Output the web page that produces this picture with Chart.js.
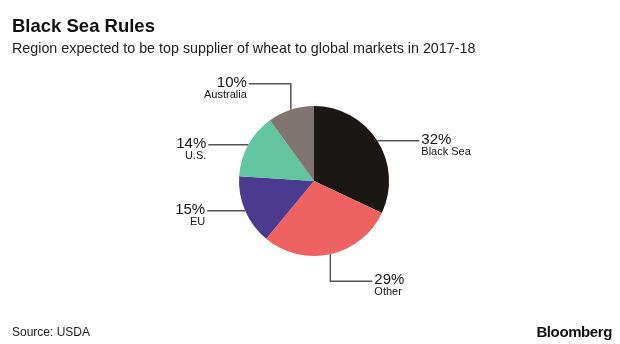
<!DOCTYPE html>
<html>
<head>
<meta charset="utf-8">
<script src="https://cdn.jsdelivr.net/npm/chart.js@4.4.1/dist/chart.umd.min.js"></script>
<style>
    body { margin: 0; background: #fff; font-family: "Liberation Sans", Arial, sans-serif; }
    #wrap { position: relative; width: 620px; height: 344px; overflow: hidden; }
    #wrap canvas { position: absolute; left: 0; top: 0; }
    .txt { position: absolute; color: #111; white-space: nowrap; line-height: 1; }
    #title { left: 12px; top: 17px; font-size: 18.5px; font-weight: bold; }
    #subtitle { left: 12px; top: 41px; font-size: 14.3px; color: #222; }
    #source { left: 12px; top: 326px; font-size: 12px; color: #222; }
    #brand { right: 8px; top: 324px; font-size: 15px; font-weight: bold; letter-spacing: -0.4px; }
</style>
</head>
<body>
<div id="wrap">
    <canvas id="pieChart" width="620" height="344"></canvas>
    <div class="txt" id="title">Black Sea Rules</div>
    <div class="txt" id="subtitle">Region expected to be top supplier of wheat to global markets in 2017-18</div>
    <div class="txt" id="source">Source: USDA</div>
    <div class="txt" id="brand">Bloomberg</div>
</div>
<script>
// data
const regions = ['Black Sea', 'Other', 'EU', 'U.S.', 'Australia'];
const shares = [32, 29, 15, 14, 10];
const sliceColors = ['#1b1715', '#ee6262', '#4a3b8f', '#62c4a0', '#807571'];

// leader line layout per slice (dx/dy moves from the slice edge)
const leaders = [
    { path: [[42, 0]], align: 'left' },           // Black Sea
    { path: [[0, 27], [42, 0]], align: 'left' },  // Other
    { path: [[-38, 0]], align: 'right' },         // EU
    { path: [[-40, 0]], align: 'right' },         // U.S.
    { path: [[0, -26], [-42, 0]], align: 'right' } // Australia
];

const labelPlugin = {
    id: 'leaderLabels',
    afterDatasetsDraw(chart) {
        const ctx = chart.ctx;
        const arcs = chart.getDatasetMeta(0).data;
        arcs.forEach((arc, i) => {
            const mid = (arc.startAngle + arc.endAngle) / 2;
            let x = arc.x + Math.cos(mid) * arc.outerRadius;
            let y = arc.y + Math.sin(mid) * arc.outerRadius;
            ctx.save();
            ctx.strokeStyle = '#555';
            ctx.lineWidth = 1.5;
            ctx.beginPath();
            ctx.moveTo(x, y);
            leaders[i].path.forEach(([dx, dy]) => {
                x += dx; y += dy;
                ctx.lineTo(x, y);
            });
            ctx.stroke();

            const left = leaders[i].align === 'left';
            const tx = left ? x + 2 : x - 2;
            ctx.textAlign = left ? 'left' : 'right';
            ctx.textBaseline = 'middle';
            ctx.fillStyle = '#161616';
            ctx.font = '15px "Liberation Sans", Arial, sans-serif';
            ctx.fillText(shares[i] + '%', tx, y - 1);
            ctx.font = '11px "Liberation Sans", Arial, sans-serif';
            ctx.fillText(regions[i], tx, y + 11);
            ctx.restore();
        });
    }
};

var ctx = document.getElementById('pieChart').getContext('2d');
var pieChart = new Chart(ctx, {
    type: 'pie',
    data: {
        labels: regions,
        datasets: [{
            data: shares,
            backgroundColor: sliceColors,
            borderWidth: 0
        }]
    },
    options: {
        responsive: false,
        animation: false,
        layout: {
            padding: { top: 106, bottom: 88, left: 239, right: 231 }
        },
        plugins: {
            legend: { display: false },
            tooltip: { enabled: false }
        }
    },
    plugins: [labelPlugin]
});
</script>
</body>
</html>
